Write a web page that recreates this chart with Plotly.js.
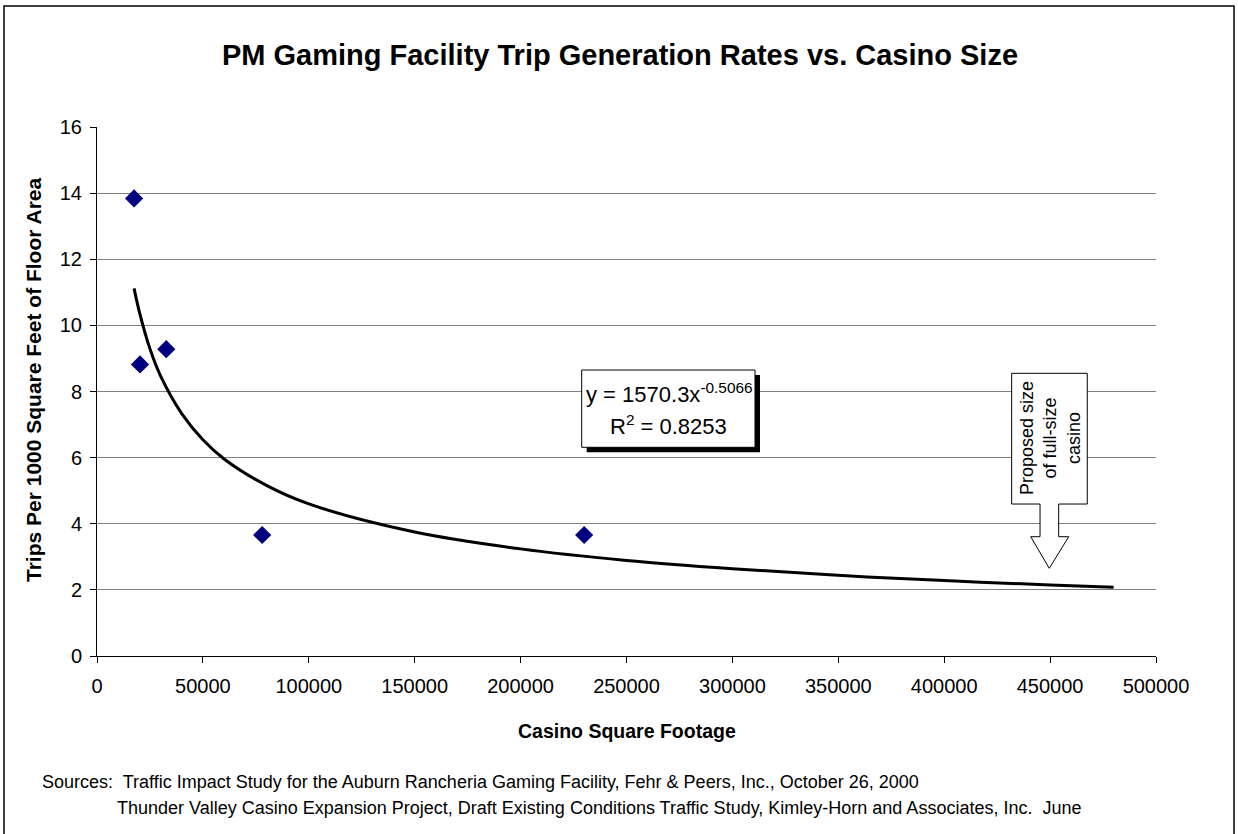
<!DOCTYPE html>
<html>
<head>
<meta charset="utf-8">
<script src="https://cdn.plot.ly/plotly-3.0.1.min.js"></script>
<style>html,body{margin:0;padding:0;background:#fff;}#chart{width:1238px;height:834px;}</style>
</head>
<body>
<div id="chart"></div>
<script>
// Observed casinos
const casinoSqFt = [17500, 20300, 32700, 78000, 230000];
const tripRates = [13.84, 8.82, 9.28, 3.66, 3.66];

// Power trend line
const trendX = [17500, 20000, 25000, 30000, 40000, 50000, 60000, 80000, 100000, 150000, 200000, 250000, 300000, 350000, 400000, 450000, 480000];
const trendY = [11.12, 10.41, 9.29, 8.47, 7.33, 6.54, 5.96, 5.16, 4.60, 3.75, 3.24, 2.89, 2.64, 2.44, 2.28, 2.15, 2.08];

const xTicks = [0, 50000, 100000, 150000, 200000, 250000, 300000, 350000, 400000, 450000, 500000];
const yTicks = [0, 2, 4, 6, 8, 10, 12, 14, 16];

const FONT = 'Liberation Sans, Arial, sans-serif';

const traces = [
  {
    x: trendX, y: trendY, type: 'scatter', mode: 'lines',
    line: {color: '#000000', width: 3, shape: 'spline'},
    hoverinfo: 'skip', showlegend: false
  },
  {
    x: casinoSqFt, y: tripRates, type: 'scatter', mode: 'markers',
    marker: {symbol: 'diamond', size: 14, color: '#000080'},
    showlegend: false
  }
];

const px = x => (x - 97) / 1059;
const py = y => (656 - y) / 529;

const arrowPath = 'M ' + [
  [1011.7, 373.3], [1087.3, 373.3], [1087.3, 504], [1058.7, 504], [1058.7, 536.7],
  [1068.7, 536.7], [1049.3, 568.3], [1030.7, 536.7], [1040, 536.7], [1040, 504], [1011.7, 504]
].map(p => px(p[0]).toFixed(4) + ',' + py(p[1]).toFixed(4)).join(' L ') + ' Z';

const layout = {
  width: 1238, height: 834,
  margin: {l: 97, r: 82, t: 127, b: 178},
  paper_bgcolor: '#ffffff', plot_bgcolor: '#ffffff',
  font: {family: FONT, color: '#000000', size: 20},
  title: {
    text: 'PM Gaming Facility Trip Generation Rates vs. Casino Size',
    font: {family: FONT, size: 29, weight: 'bold', color: '#000'},
    x: 0.5008, xanchor: 'center', y: 1 - 55 / 834, yanchor: 'middle'
  },
  xaxis: {
    range: [0, 500000], tickvals: xTicks, ticktext: xTicks.map(String),
    showgrid: false, zeroline: false,
    showline: true, linecolor: '#000', linewidth: 1,
    ticks: 'outside', ticklen: 6, tickcolor: '#000', ticklabelstandoff: 6,
    tickfont: {family: FONT, size: 20}, fixedrange: true
  },
  yaxis: {
    range: [0, 16], tickvals: yTicks, ticktext: yTicks.map(String),
    showgrid: true, gridcolor: '#808080', gridwidth: 1,
    zeroline: false, showline: true, linecolor: '#000', linewidth: 1,
    ticks: 'outside', ticklen: 6, tickcolor: '#000', ticklabelstandoff: 4,
    tickfont: {family: FONT, size: 20}, fixedrange: true
  },
  shapes: [
    {type: 'rect', xref: 'paper', yref: 'paper', x0: px(4), x1: px(1234), y0: py(850), y1: py(6),
     line: {color: '#000', width: 1.5}, fillcolor: 'rgba(0,0,0,0)', layer: 'below'},
    {type: 'rect', xref: 'paper', yref: 'paper', x0: px(586.7), x1: px(760), y0: py(452.3), y1: py(375),
     line: {width: 0}, fillcolor: '#000', layer: 'above'},
    {type: 'rect', xref: 'paper', yref: 'paper', x0: px(581.7), x1: px(755), y0: py(447.3), y1: py(370),
     line: {color: '#000', width: 1}, fillcolor: '#fff', layer: 'above'},
    {type: 'path', xref: 'paper', yref: 'paper', path: arrowPath,
     line: {color: '#000', width: 1}, fillcolor: '#fff', layer: 'above'}
  ],
  annotations: [
    {xref: 'paper', yref: 'paper', x: 0.5, y: py(731), xanchor: 'center', yanchor: 'middle',
     text: 'Casino Square Footage', showarrow: false,
     font: {family: FONT, size: 19.5, weight: 'bold'}},
    {xref: 'paper', yref: 'paper', x: px(33), y: py(380), xanchor: 'center', yanchor: 'middle',
     text: 'Trips Per 1000 Square Feet of Floor Area', textangle: -90, showarrow: false,
     font: {family: FONT, size: 21, weight: 'bold'}},
    {xref: 'paper', yref: 'paper', x: px(584), y: py(393), xanchor: 'left', yanchor: 'middle',
     text: 'y = 1570.3x<sup>-0.5066</sup>', showarrow: false,
     font: {family: FONT, size: 22}},
    {xref: 'paper', yref: 'paper', x: px(668), y: py(425), xanchor: 'center', yanchor: 'middle',
     text: 'R<sup>2</sup> = 0.8253', showarrow: false,
     font: {family: FONT, size: 22}},
    {xref: 'paper', yref: 'paper', x: px(1050), y: py(438), xanchor: 'center', yanchor: 'middle',
     text: 'Proposed size<br>of full-size<br>casino', textangle: -90, showarrow: false,
     font: {family: FONT, size: 18}},
    {xref: 'paper', yref: 'paper', x: px(40), y: py(782), xanchor: 'left', yanchor: 'middle',
     text: 'Sources:  Traffic Impact Study for the Auburn Rancheria Gaming Facility, Fehr &amp; Peers, Inc., October 26, 2000',
     showarrow: false, font: {family: FONT, size: 18}},
    {xref: 'paper', yref: 'paper', x: px(115), y: py(808), xanchor: 'left', yanchor: 'middle',
     text: 'Thunder Valley Casino Expansion Project, Draft Existing Conditions Traffic Study, Kimley-Horn and Associates, Inc.  June',
     showarrow: false, font: {family: FONT, size: 18}}
  ]
};

Plotly.newPlot('chart', traces, layout, {displayModeBar: false, staticPlot: true});
</script>
</body>
</html>
